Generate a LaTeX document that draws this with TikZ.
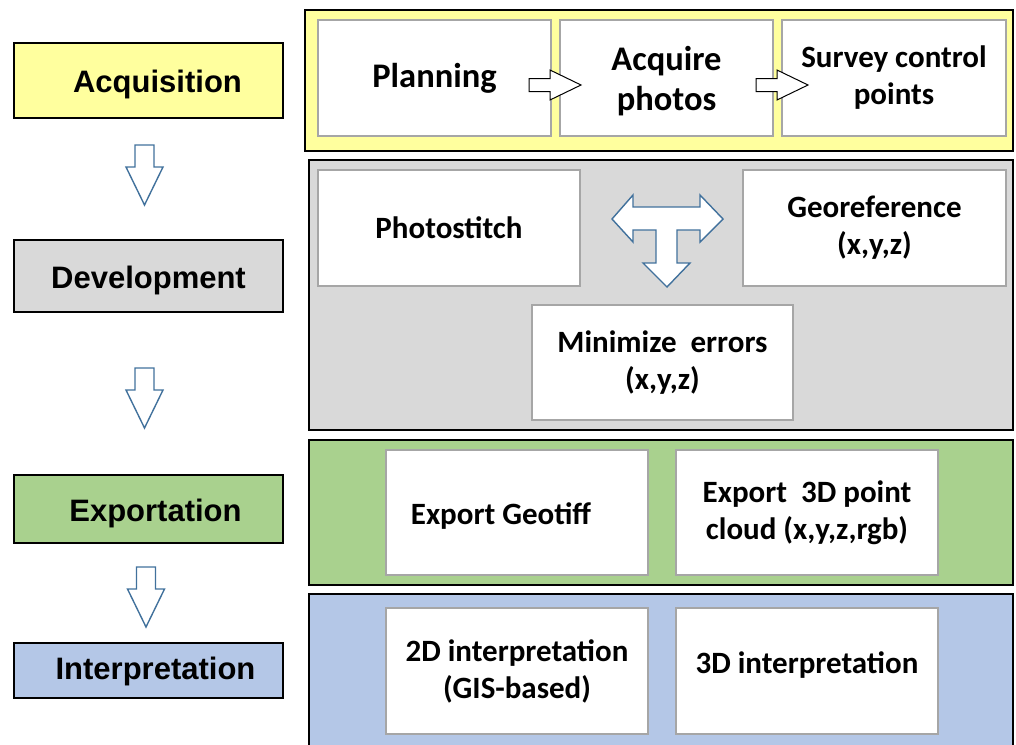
\documentclass[tikz,border=0pt]{standalone}
\usepackage{fontspec}
\setmainfont{Carlito}
\newfontfamily\arialfont{Liberation Sans}
\usetikzlibrary{positioning}
\definecolor{acqyellow}{HTML}{FFFF9E}
\definecolor{devgray}{HTML}{D9D9D9}
\definecolor{expgreen}{HTML}{A9D18E}
\definecolor{intblue}{HTML}{B4C7E7}
\definecolor{taskgray}{HTML}{A6A6A6}
\definecolor{flowblue}{HTML}{41719C}

\begin{document}
\begin{tikzpicture}[x=1pt,y=-1pt,
  stage/.style={draw=black,line width=1.2pt,minimum width=269pt,inner sep=0pt},
  stagetext/.style={xshift=9pt,yshift=-4pt,inner sep=0pt,font=\arialfont\bfseries\fontsize{31}{35}\selectfont},
  panel/.style={draw=black,line width=1.6pt},
  task/.style={draw=taskgray,fill=white,line width=1.8pt,align=center,inner sep=0pt,font=\bfseries\fontsize{31}{37}\selectfont},
  bigtask/.style={task,font=\bfseries\fontsize{34.5}{40}\selectfont},
  flow/.style={draw=flowblue,fill=white,line width=1.4pt,line join=miter},
  pics/downarrow/.style={code={\draw[flow] (-9.5,0) -- (9.5,0) -- (9.5,22) -- (18.5,22) -- (0,60) -- (-18.5,22) -- (-9.5,22) -- cycle;}},
  pics/rightarrow/.style={code={\draw[black,fill=white,line width=1pt,line join=miter] (0,-6.5) -- (21,-6.5) -- (21,-15) -- (52,0) -- (21,15) -- (21,6.5) -- (0,6.5) -- cycle;}}]
\useasboundingbox (0,0) rectangle (1016,744);

% stages on the left
\node[stage,fill=acqyellow,minimum height=75pt,label={[stagetext]center:Acquisition}] (acq) at (148.5,80.5) {};
\node[stage,fill=devgray,minimum height=72pt,label={[stagetext,xshift=-9pt]center:Development}] (dev) at (148.5,276) {};
\node[stage,fill=expgreen,minimum height=68pt,label={[stagetext,xshift=-2pt]center:Exportation}] (exp) at (148.5,509) {};
\node[stage,fill=intblue,minimum height=55pt,label={[stagetext,xshift=-2pt,yshift=3pt]center:Interpretation}] (int) at (148.5,670.5) {};
\pic at (144.5,145) {downarrow};
\pic at (144.5,368) {downarrow};
\pic at (146,567) {downarrow};

% panels on the right
\draw[panel,fill=acqyellow] (305,10) rectangle (1013,151);
\draw[panel,fill=devgray] (309,160) rectangle (1013,430);
\draw[panel,fill=expgreen] (309,440) rectangle (1013,585);
\draw[panel,fill=intblue] (309,594) rectangle (1013,750);

% acquisition
\node[bigtask,minimum width=233pt,minimum height=116pt] (plan) at (434.5,78) {Planning};
\node[bigtask,minimum width=213pt,minimum height=116pt] (photo) at (666.5,78) {\raisebox{-3pt}[\height][\depth]{Acquire}\\\raisebox{-3pt}[\height][\depth]{photos}};
\node[task,minimum width=224pt,minimum height=116pt] (gcp) at (894,78) {Survey control\\points};
\pic at (529,85) {rightarrow};
\pic at (756,85) {rightarrow};

% development
\node[task,minimum width=262pt,minimum height=116pt] (stitch) at (449,228) {Photostitch};
\node[task,minimum width=263pt,minimum height=116pt] (georef) at (874.5,228) {Georeference\\(x,y,z)};
\node[task,minimum width=261pt,minimum height=115pt] (minerr) at (662.5,362.5) {Minimize\ \ errors\\(x,y,z)};
\draw[flow] (612,219) -- (633,195) -- (633,207) -- (700,207) -- (700,195) -- (723,219)
  -- (700,242) -- (700,230) -- (677,230) -- (677,263) -- (690,263) -- (667,287)
  -- (643,263) -- (656,263) -- (656,230) -- (633,230) -- (633,242) -- cycle;

% exportation
\node[task,minimum width=262pt,minimum height=125pt] (tiff) at (517,512.5) {\hspace*{-32pt}\raisebox{-4pt}[\height][\depth]{Export Geotiff}};
\node[task,minimum width=262pt,minimum height=125pt] (cloud) at (807,512.5) {Export\ \ 3D point\\cloud (x,y,z,rgb)};

% interpretation
\node[task,minimum width=262pt,minimum height=126pt] (gis) at (517,671) {2D interpretation\\(GIS-based)};
\node[task,minimum width=262pt,minimum height=126pt] (threed) at (807,671) {\raisebox{6pt}[\height][\depth]{3D interpretation}};
\end{tikzpicture}
\end{document}
